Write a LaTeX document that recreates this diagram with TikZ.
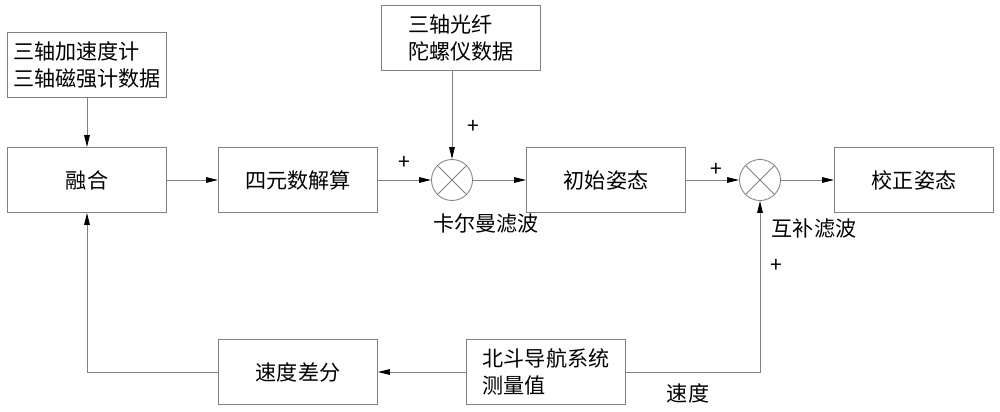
\documentclass[tikz,border=0pt]{standalone}
\usepackage{fontspec}
\setmainfont{Noto Sans CJK SC}
\usetikzlibrary{arrows.meta}

\begin{document}
\begin{tikzpicture}[line width = 0.6pt,
                    x = 0.025cm,
                    y = -0.025cm,
                    font = \fontsize{15}{19.5}\selectfont,
                    block/.style = {rectangle, draw = gray, inner sep = 0pt, align = left,
                                    minimum width = 3.975cm, minimum height = 1.625cm},
                    sum/.style = {circle, draw = gray, inner sep = 0pt, minimum size = 1.025cm,
                                  path picture = {\draw[gray]
                                      (path picture bounding box.north west) -- (path picture bounding box.south east)
                                      (path picture bounding box.north east) -- (path picture bounding box.south west);}},
                    link/.style = {draw = gray, -{Triangle[length = 3mm, width = 1.4mm, color = black]}}]

    \useasboundingbox (0,0) rectangle (1000,412);

    % \grid{0}{1000}{0}{412}
    \node[block] (SENS) at (87,65)   {三轴加速度计\\三轴磁强计数据};
    \node[block] (GYRO) at (461,38)  {三轴光纤\\陀螺仪数据};
    \node[block] (FUSE) at (87,180)  {融合};
    \node[block] (QUAT) at (298,180) {四元数解算};
    \node[sum]   (KAL)  at (452,180) {};
    \node[block] (INIT) at (606,180) {初始姿态};
    \node[sum]   (COMP) at (760,180) {};
    \node[block] (CORR) at (914,180) {校正姿态};
    \node[block] (DIFF) at (298,372) {速度差分};
    \node[block] (BDS)  at (546,372) {北斗导航系统\\测量值};

    \node (P1) at (473,127) {+};
    \node (P2) at (404,163) {+};
    \node (P3) at (716,170) {+};
    \node (P4) at (776,266) {+};
    \node (KALT)  at (486,224) {卡尔曼滤波};
    \node (COMPT) at (814,229) {互补滤波};
    \node (VEL)   at (688,393) {速度};

    \foreach \i/\j in {SENS/FUSE,
                       FUSE/QUAT,
                       QUAT/KAL,
                       KAL/INIT,
                       INIT/COMP,
                       COMP/CORR,
                       BDS/DIFF}
    {
        \draw[link] (\i) -- (\j);
    }
    \draw[link] (KAL |- GYRO.south) -- (KAL);
    \draw[link] (BDS.east) -| (COMP.south);
    \draw[link] (DIFF.west) -| (FUSE.south);
\end{tikzpicture}
\end{document}
